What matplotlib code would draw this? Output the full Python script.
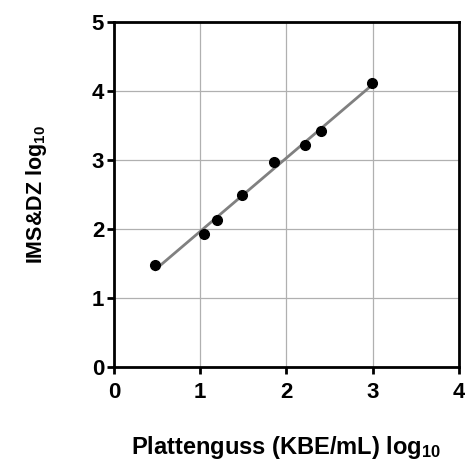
import numpy as np
import matplotlib
matplotlib.use("Agg")
import matplotlib.pyplot as plt

plt.rcParams["font.family"] = ["Liberation Sans", "DejaVu Sans"]
plt.rcParams["font.weight"] = "bold"
plt.rcParams["mathtext.fontset"] = "custom"
plt.rcParams["mathtext.rm"] = "Liberation Sans:bold"
plt.rcParams["mathtext.default"] = "rm"

# Plattenguss vs IMS&DZ (log10)
plattenguss = [0.48, 1.04, 1.20, 1.48, 1.86, 2.22, 2.40, 2.99]
ims_dz = [1.48, 1.93, 2.13, 2.50, 2.98, 3.22, 3.42, 4.12]

x_ticks = [0, 1, 2, 3, 4]
y_ticks = [0, 1, 2, 3, 4, 5]

fig = plt.figure(figsize=(4.65, 4.63), dpi=100)
ax = fig.add_axes([0.245, 0.207, 0.742, 0.745])

ax.grid(True, color="#b0b0b0", linewidth=0.9)
ax.set_axisbelow(True)

# linear fit over data range
slope, icpt = np.polyfit(plattenguss, ims_dz, 1)
xs = np.array([min(plattenguss), max(plattenguss)])
ax.plot(xs, slope * xs + icpt, color="#808080", linewidth=2, zorder=2)

ax.plot(plattenguss, ims_dz, "o", color="black", markersize=7, zorder=3)

ax.set_xlim(0, 4)
ax.set_ylim(0, 5)
ax.set_xticks(x_ticks)
ax.set_yticks(y_ticks)
for s in ax.spines.values():
    s.set_linewidth(2)
ax.tick_params(direction="out", length=5, width=2, labelsize=16)
ax.tick_params(axis="x", pad=6)
ax.tick_params(axis="y", pad=2)

ax.set_xlabel("Plattenguss (KBE/mL) log$_{10}$", fontsize=17, fontweight="bold", labelpad=22)
ax.set_ylabel("IMS&DZ log$_{10}$", fontsize=15.5, fontweight="bold", labelpad=31)

fig.savefig("out.png", dpi=100)
